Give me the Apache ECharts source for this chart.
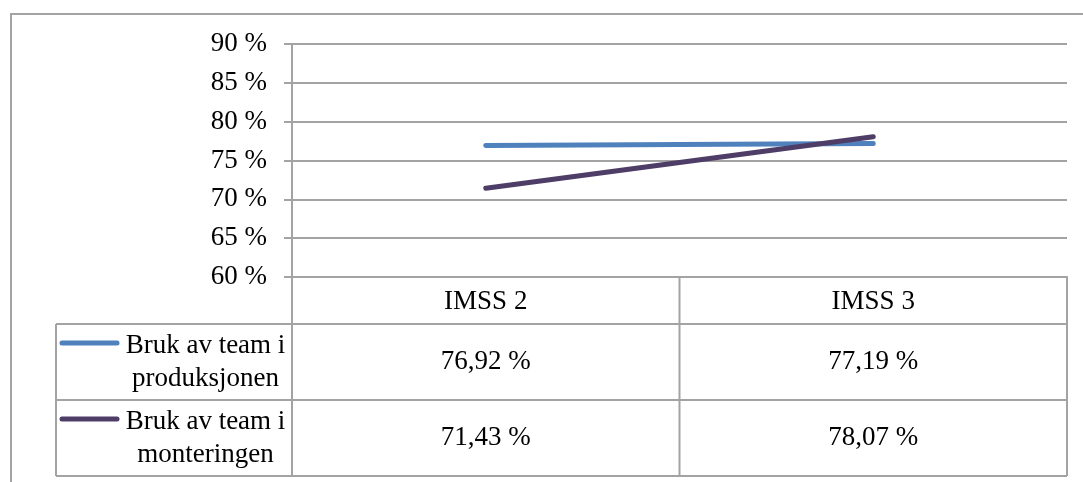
<!DOCTYPE html>
<html>
<head>
<meta charset="utf-8">
<title>Bruk av team</title>
<script src="https://cdn.jsdelivr.net/npm/echarts@6/dist/echarts.min.js"></script>
<style>
  html, body { margin: 0; padding: 0; background: #fff; }
  #chart { width: 1083px; height: 482px; }
</style>
</head>
<body>
<div id="chart"></div>
<script>
// Survey rounds along the category axis
const categories = ['IMSS 2', 'IMSS 3'];
// Series shown in the chart and in the data table underneath
const seriesNames = ['Bruk av team i\nproduksjonen', 'Bruk av team i\nmonteringen'];
const produksjonen = [76.92, 77.19];
const monteringen = [71.43, 78.07];
const seriesColors = ['#4F81BD', '#4E3D66'];
// Value axis range, in percent
const yMin = 60, yMax = 90, yStep = 5;

const FONT = '"Liberation Serif", "Times New Roman", serif';
const FONT_SIZE = 27;
const GRID_COLOR = '#a3a3a3';

const fmtPct = v => v.toFixed(2).replace('.', ',') + ' %';

const chart = echarts.init(document.getElementById('chart'), null, { renderer: 'canvas' });

const seriesData = [produksjonen, monteringen];

chart.setOption({
  animation: false,
  backgroundColor: '#fff',
  grid: { left: 292, right: 16, top: 44, bottom: 205, containLabel: false },
  xAxis: {
    type: 'category',
    data: categories,
    boundaryGap: true,
    axisLine: { show: true, lineStyle: { color: GRID_COLOR, width: 2 } },
    axisTick: { show: false },
    axisLabel: {
      margin: 11,
      color: '#000',
      fontFamily: FONT,
      fontSize: FONT_SIZE
    }
  },
  yAxis: {
    type: 'value',
    min: yMin,
    max: yMax,
    interval: yStep,
    axisLine: { show: true, lineStyle: { color: GRID_COLOR, width: 2 } },
    axisTick: { show: true, length: 8, lineStyle: { color: GRID_COLOR, width: 2 } },
    axisLabel: {
      margin: 25,
      color: '#000',
      fontFamily: FONT,
      fontSize: FONT_SIZE,
      formatter: v => v + ' %'
    },
    splitLine: { show: true, lineStyle: { color: GRID_COLOR, width: 2 } }
  },
  series: seriesData.map((data, i) => ({
    name: seriesNames[i],
    type: 'line',
    data: data,
    symbol: 'none',
    lineStyle: { color: seriesColors[i], width: 5, cap: 'round', join: 'round' },
    itemStyle: { color: seriesColors[i] },
    z: 3 + i
  }))
});

// Data table below the plot, laid out from the category axis positions
function buildTable() {
  const c0 = chart.convertToPixel({ xAxisIndex: 0 }, 0);
  const c1 = chart.convertToPixel({ xAxisIndex: 0 }, 1);
  const band = c1 - c0;
  const xLeft = c0 - band / 2;
  const xMid = c0 + band / 2;
  const xRight = c1 + band / 2;
  const yTop = chart.convertToPixel({ yAxisIndex: 0 }, yMin);
  const headerH = 47;
  const rowH = 76;
  const legendLeft = 56;
  const rowTops = [yTop + headerH, yTop + headerH + rowH];
  const yBottom = yTop + headerH + 2 * rowH;

  const lineStyle = { stroke: GRID_COLOR, lineWidth: 2 };
  const els = [];
  const seg = (x1, y1, x2, y2) => els.push({
    type: 'line', silent: true, z: 1,
    shape: { x1, y1, x2, y2 }, style: lineStyle
  });

  // outer chart frame
  els.push({
    type: 'polyline', silent: true, z: 1,
    shape: { points: [[11, 482], [11, 14], [1083, 14]] },
    style: { stroke: GRID_COLOR, lineWidth: 2, fill: null }
  });

  // table grid
  seg(xLeft, yTop, xLeft, yBottom);
  seg(xMid, yTop, xMid, yBottom);
  seg(xRight, yTop, xRight, yBottom);
  seg(legendLeft, rowTops[0], legendLeft, yBottom);
  seg(legendLeft, rowTops[0], xRight, rowTops[0]);
  seg(legendLeft, rowTops[1], xRight, rowTops[1]);
  seg(legendLeft, yBottom, xRight, yBottom);

  seriesData.forEach((data, i) => {
    const top = rowTops[i];
    const mid = top + rowH / 2;
    // legend key
    els.push({
      type: 'line', silent: true, z: 2,
      shape: { x1: legendLeft + 6, y1: top + 19, x2: legendLeft + 61, y2: top + 19 },
      style: { stroke: seriesColors[i], lineWidth: 5, lineCap: 'round' }
    });
    els.push({
      type: 'text', silent: true, z: 2,
      style: {
        text: seriesNames[i],
        x: (legendLeft + 61 + xLeft) / 2 + 1, y: mid,
        align: 'center', verticalAlign: 'middle',
        fontFamily: FONT, fontSize: FONT_SIZE, lineHeight: 33,
        fill: '#000'
      }
    });
    // values
    data.forEach((v, j) => {
      els.push({
        type: 'text', silent: true, z: 2,
        style: {
          text: fmtPct(v),
          x: j === 0 ? c0 : c1, y: mid,
          align: 'center', verticalAlign: 'middle',
          fontFamily: FONT, fontSize: FONT_SIZE,
          fill: '#000'
        }
      });
    });
  });

  chart.setOption({ graphic: { elements: els } });
}

buildTable();
</script>
</body>
</html>
